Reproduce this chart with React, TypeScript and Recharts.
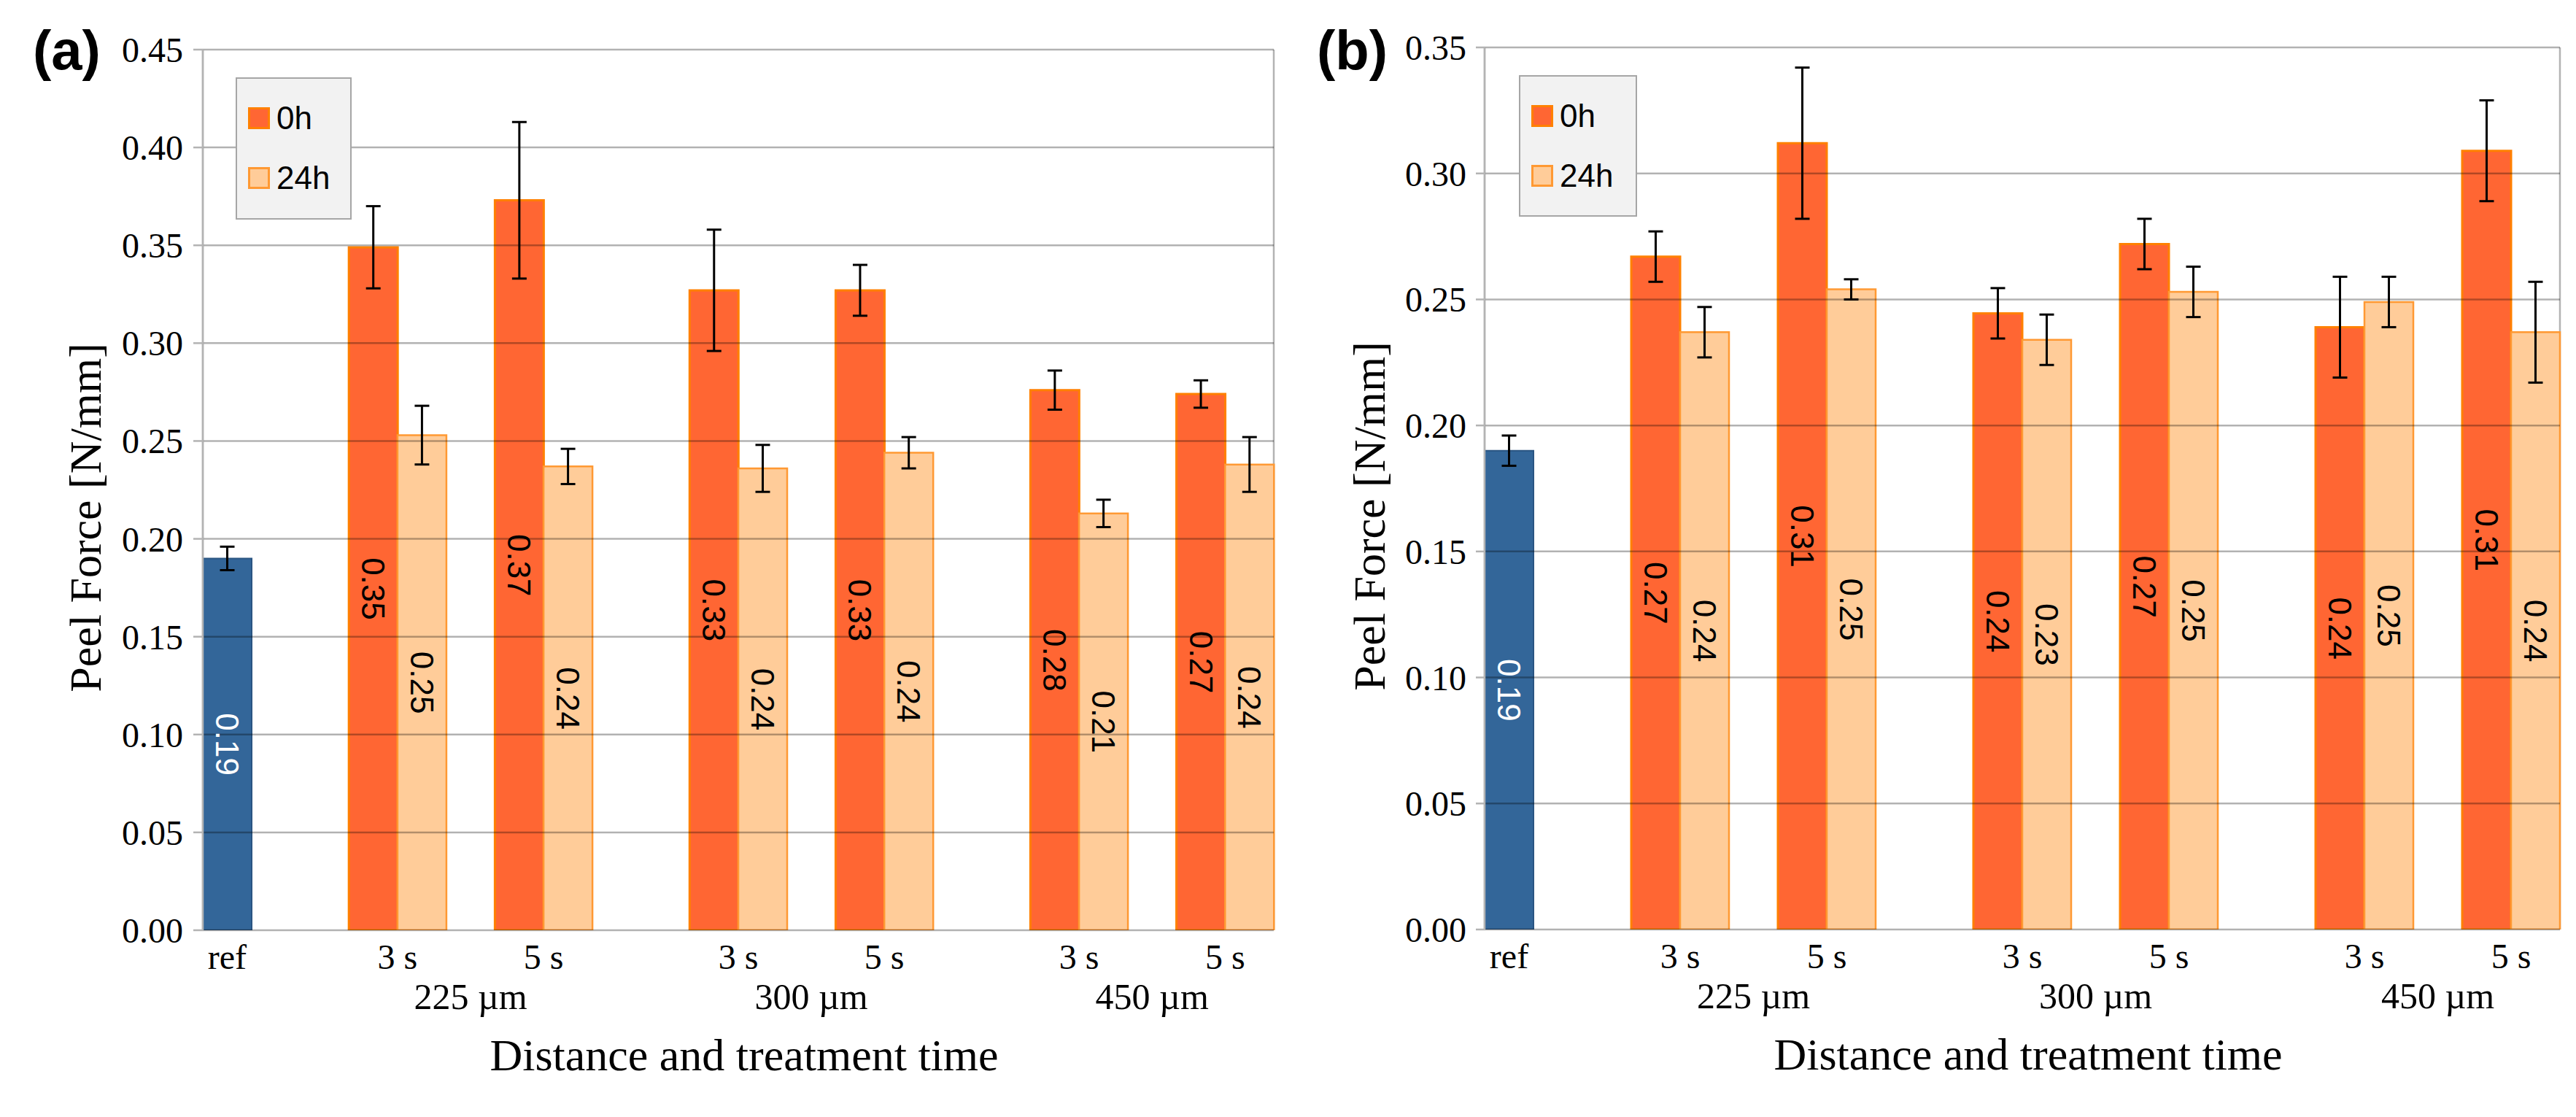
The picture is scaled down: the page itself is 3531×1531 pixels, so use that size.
import React from "react";
import {
  Bar,
  BarChart,
  CartesianGrid,
  Cell,
  ErrorBar,
  Label,
  LabelList,
  Legend,
  ReferenceLine,
  XAxis,
  YAxis,
} from "recharts";

// categories and groups
const refLabel = "ref";
const categories = ["3 s", "5 s", "3 s", "5 s", "3 s", "5 s"];
const groups = ["225 µm", "300 µm", "450 µm"];
const seriesNames = ["0h", "24h"];

// panel (a)
const refA = 0.19;
const refErrA = 0.006;
const h0A = [0.349, 0.373, 0.327, 0.327, 0.276, 0.274];
const h0ErrA = [0.021, 0.04, 0.031, 0.013, 0.01, 0.007];
const h24A = [0.253, 0.237, 0.236, 0.244, 0.213, 0.238];
const h24ErrA = [0.015, 0.009, 0.012, 0.008, 0.007, 0.014];
const yTicksA = [0, 0.05, 0.1, 0.15, 0.2, 0.25, 0.3, 0.35, 0.4, 0.45];

// panel (b)
const refB = 0.19;
const refErrB = 0.006;
const h0B = [0.267, 0.312, 0.2445, 0.272, 0.239, 0.309];
const h0ErrB = [0.01, 0.03, 0.01, 0.01, 0.02, 0.02];
const h24B = [0.237, 0.254, 0.234, 0.253, 0.249, 0.237];
const h24ErrB = [0.01, 0.004, 0.01, 0.01, 0.01, 0.02];
const yTicksB = [0, 0.05, 0.1, 0.15, 0.2, 0.25, 0.3, 0.35];

// slot layout of the category axis (one slot = one bar width)
const SLOT_COUNT = 22;
const REF_SLOT = 0;
const CATEGORY_SLOTS = [3, 6, 10, 13, 17, 20];
const GROUP_SLOTS = [5, 12, 19];

const COLORS = {
  ref: { fill: "#336699", stroke: "#2a5582", width: 2 },
  h0: { fill: "#ff6633", stroke: "#ff8000", width: 3 },
  h24: { fill: "#ffcc99", stroke: "#ff9933", width: 2.5 },
};

type Row = {
  slot: number;
  value: number | null;
  err: number | null;
  kind: "" | "ref" | "h0" | "h24";
  tick: string;
  tickShift: number;
  group: string;
};

function buildRows(ref: number, refErr: number, h0: number[], h0Err: number[], h24: number[], h24Err: number[]): Row[] {
  const rows: Row[] = Array.from({ length: SLOT_COUNT }, (_, i) => ({
    slot: i,
    value: null,
    err: null,
    kind: "",
    tick: "",
    tickShift: 0,
    group: "",
  }));
  rows[REF_SLOT].value = ref;
  rows[REF_SLOT].err = refErr;
  rows[REF_SLOT].kind = "ref";
  rows[REF_SLOT].tick = refLabel;
  CATEGORY_SLOTS.forEach((s, i) => {
    rows[s].value = h0[i];
    rows[s].err = h0Err[i];
    rows[s].kind = "h0";
    rows[s + 1].value = h24[i];
    rows[s + 1].err = h24Err[i];
    rows[s + 1].kind = "h24";
    rows[s + 1].tick = categories[i];
    rows[s + 1].tickShift = -0.5;
  });
  GROUP_SLOTS.forEach((s, i) => {
    rows[s].group = groups[i];
  });
  return rows;
}

const serif = "'Liberation Serif', 'Times New Roman', serif";
const sans = "'Liberation Sans', Arial, sans-serif";
const GRID = "#b3b3b3";

function LegendBox() {
  const items = [
    { name: seriesNames[0], c: COLORS.h0, top: 39, textTop: 32 },
    { name: seriesNames[1], c: COLORS.h24, top: 121, textTop: 114 },
  ];
  return (
    <div
      style={{
        width: "100%",
        height: "100%",
        boxSizing: "border-box",
        background: "#f2f2f2",
        border: "2px solid #a6a6a6",
        position: "relative",
        fontFamily: sans,
        fontSize: 44,
        lineHeight: 1,
        color: "#000",
      }}
    >
      {items.map((it) => (
        <React.Fragment key={it.name}>
          <div
            style={{
              position: "absolute",
              left: 15,
              top: it.top,
              width: 30,
              height: 30,
              boxSizing: "border-box",
              background: it.c.fill,
              border: `3px solid ${it.c.stroke}`,
            }}
          />
          <div style={{ position: "absolute", left: 54, top: it.textTop }}>{it.name}</div>
        </React.Fragment>
      ))}
    </div>
  );
}

type PanelProps = {
  tag: string;
  rows: Row[];
  yMax: number;
  yTicks: number[];
  left: number;
  width: number;
  margin: { top: number; right: number; bottom: number; left: number };
  yAxisWidth: number;
  xAxisHeight: number;
  tickMargin: number;
  tickSize: number;
  legendPos: { left: number; top: number; width: number; height: number };
};

function Panel(p: PanelProps) {
  const height = 1531;
  const plotWidth = p.width - p.margin.left - p.margin.right - p.yAxisWidth;
  const band = plotWidth / SLOT_COUNT;

  const renderTick = (props: any) => {
    const { x, y, payload } = props;
    const row = p.rows[Number(payload.value)];
    if (!row) return <g />;
    return (
      <g>
        {row.tick ? (
          <text x={x + row.tickShift * band} y={y + 51} textAnchor="middle" fontFamily={serif} fontSize={48} fill="#000">
            {row.tick}
          </text>
        ) : null}
        {row.group ? (
          <text x={x} y={y + 106} textAnchor="middle" fontFamily={serif} fontSize={50} fill="#000">
            {row.group}
          </text>
        ) : null}
      </g>
    );
  };

  const renderBarLabel = (props: any) => {
    const { value, index } = props;
    if (value == null) return null;
    const vb = props.viewBox ?? props;
    const { x, y, width, height: h } = vb;
    const cx = x + width / 2;
    const cy = y + h / 2;
    const row = p.rows[index];
    return (
      <text
        x={cx}
        y={cy}
        transform={`rotate(90, ${cx}, ${cy})`}
        textAnchor="middle"
        dominantBaseline="central"
        fontFamily={sans}
        fontSize={44}
        fill={row && row.kind === "ref" ? "#ffffff" : "#000000"}
      >
        {Number(value).toFixed(2)}
      </text>
    );
  };

  const renderYTitle = (props: any) => {
    const vb = props.viewBox;
    const x = vb.x + 58;
    const y = vb.y + vb.height / 2 + 38;
    return (
      <text x={x} y={y} transform={`rotate(-90, ${x}, ${y})`} textAnchor="middle" fontFamily={serif} fontSize={62} fill="#000">
        Peel Force [N/mm]
      </text>
    );
  };

  const renderXTitle = (props: any) => {
    const vb = props.viewBox;
    return (
      <text x={vb.x + vb.width / 2 + 8} y={vb.y + 192} textAnchor="middle" fontFamily={serif} fontSize={62} fill="#000">
        Distance and treatment time
      </text>
    );
  };

  return (
    <div style={{ position: "absolute", left: p.left, top: 0, width: p.width, height }}>
      <BarChart width={p.width} height={height} data={p.rows} margin={p.margin} barCategoryGap={0}>
        <CartesianGrid
          horizontal={false}
          vertical
          stroke={GRID}
          strokeWidth={2.5}
          verticalCoordinatesGenerator={(g: any) => [g.offset.left, g.offset.left + g.offset.width]}
        />
        <XAxis
          dataKey="slot"
          type="category"
          interval={0}
          tickLine={false}
          axisLine={false}
          tickSize={0}
          height={p.xAxisHeight}
          tick={renderTick}
          label={<Label content={renderXTitle} />}
        />
        <YAxis
          type="number"
          domain={[0, p.yMax]}
          ticks={p.yTicks}
          allowDataOverflow
          width={p.yAxisWidth}
          tickFormatter={(v: number) => v.toFixed(2)}
          tick={{ fontFamily: serif, fontSize: 48, fill: "#000" }}
          tickSize={p.tickSize}
          tickMargin={p.tickMargin}
          axisLine={{ stroke: GRID, strokeWidth: 2.5 }}
          tickLine={{ stroke: GRID, strokeWidth: 2.5 }}
          label={<Label content={renderYTitle} />}
        />
        <Legend
          layout="vertical"
          align="center"
          verticalAlign="middle"
          content={() => <LegendBox />}
          wrapperStyle={{ ...p.legendPos, position: "absolute" }}
        />
        <Bar dataKey="value" isAnimationActive={false}>
          {p.rows.map((r) => {
            const c = r.kind ? COLORS[r.kind] : COLORS.h0;
            return <Cell key={r.slot} fill={c.fill} stroke={c.stroke} strokeWidth={c.width} />;
          })}
          <ErrorBar dataKey="err" direction="y" width={10} stroke="#000" strokeWidth={3} />
          <LabelList dataKey="value" content={renderBarLabel} />
        </Bar>
        {p.yTicks.map((t) => (
          <ReferenceLine key={t} y={t} stroke="#000" strokeOpacity={0.3} strokeWidth={2.5} />
        ))}
      </BarChart>
      <div
        style={{
          position: "absolute",
          left: p.tag === "(a)" ? 45 : 45,
          top: 31,
          fontFamily: sans,
          fontWeight: 700,
          fontSize: 76,
          lineHeight: 1,
          color: "#000",
        }}
      >
        {p.tag}
      </div>
    </div>
  );
}

const rowsA = buildRows(refA, refErrA, h0A, h0ErrA, h24A, h24ErrA);
const rowsB = buildRows(refB, refErrB, h0B, h0ErrB, h24B, h24ErrB);

export default function App() {
  return (
    <div style={{ position: "absolute", left: 0, top: 0, width: 3531, height: 1531, background: "#fff" }}>
      <Panel
        tag="(a)"
        rows={rowsA}
        yMax={0.45}
        yTicks={yTicksA}
        left={0}
        width={1760}
        margin={{ top: 68, right: 14, bottom: 0, left: 80 }}
        yAxisWidth={198}
        xAxisHeight={256}
        tickSize={13}
        tickMargin={14}
        legendPos={{ left: 323, top: 106, width: 159, height: 195 }}
      />
      <Panel
        tag="(b)"
        rows={rowsB}
        yMax={0.35}
        yTicks={yTicksB}
        left={1760}
        width={1771}
        margin={{ top: 65, right: 22, bottom: 0, left: 80 }}
        yAxisWidth={195}
        xAxisHeight={257}
        tickSize={12}
        tickMargin={13}
        legendPos={{ left: 322, top: 103, width: 162, height: 194 }}
      />
    </div>
  );
}
